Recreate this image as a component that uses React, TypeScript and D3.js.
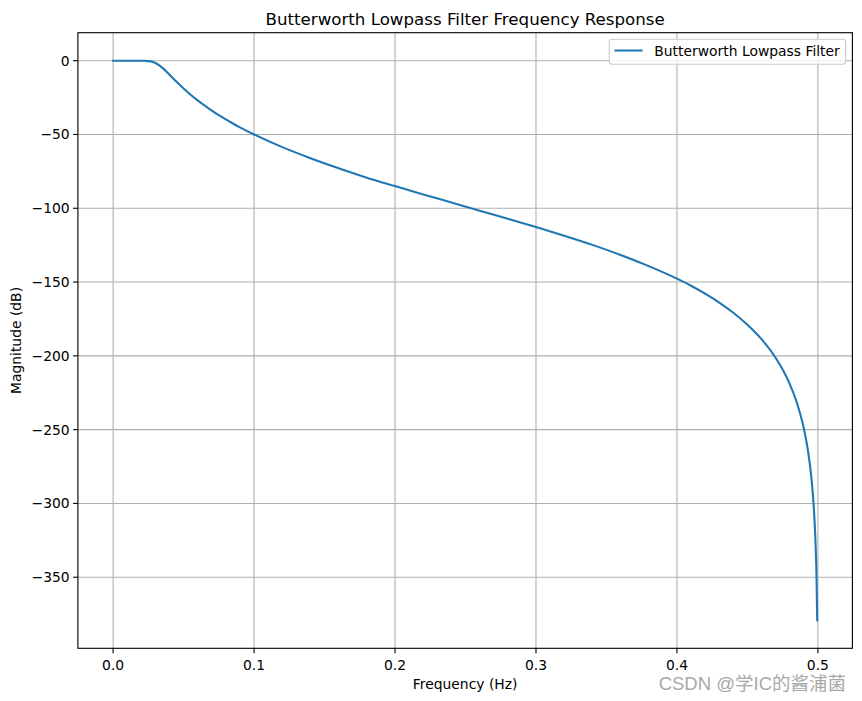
import React from "react";
import * as d3 from "d3";

const freqHz = [
  0, 0.005, 0.01, 0.015, 0.02, 0.0225, 0.025, 0.0275, 0.03, 0.0325, 0.035, 0.0375, 0.04, 0.0425, 0.045,
  0.05, 0.055, 0.06, 0.065, 0.07, 0.075, 0.08, 0.085, 0.09, 0.1, 0.12, 0.14, 0.16, 0.18, 0.2,
  0.22, 0.24, 0.26, 0.28, 0.3, 0.32, 0.34, 0.36, 0.38, 0.4, 0.41, 0.42, 0.43, 0.44, 0.45, 0.46,
  0.47, 0.475, 0.48, 0.485, 0.49, 0.493, 0.495, 0.496, 0.497, 0.498, 0.4985, 0.499, 0.4995,
];
const magnitudeDb = [
  0, 0, 0, -0.002, -0.032, -0.104, -0.293, -0.726, -1.573, -2.96, -4.86, -7.1, -9.51, -11.95, -14.33,
  -18.86, -23.05, -26.9, -30.47, -33.8, -36.88, -39.8, -42.55, -45.16, -50.0, -58.6, -66.07, -72.86, -79.26, -84.97,
  -90.6, -96.1, -101.6, -107.1, -112.7, -118.6, -124.8, -131.6, -139.2, -147.7, -152.5, -157.9, -163.9, -170.8, -178.9, -188.7,
  -201.3, -209.3, -219.0, -231.5, -249.1, -264.6, -279.2, -288.9, -301.4, -319.0, -331.5, -349.1, -379.2,
];
const xTicks = [0, 0.1, 0.2, 0.3, 0.4, 0.5];
const yTicks = [0, -50, -100, -150, -200, -250, -300, -350];

const W = 862;
const H = 701;
const left = 77.9;
const right = 852.4;
const top = 32.7;
const bottom = 648.3;
const FONT = "'DejaVu Sans', sans-serif";
const LW = 1.11;

export default function App() {
  const xMin = d3.min(freqHz) as number;
  const xMax = d3.max(freqHz) as number;
  const xPad = (xMax - xMin) * 0.05;
  const x = d3.scaleLinear().domain([xMin - xPad, xMax + xPad]).range([left, right]);
  const yMin = d3.min(magnitudeDb) as number;
  const yMax = d3.max(magnitudeDb) as number;
  const pad = (yMax - yMin) * 0.05;
  const y = d3.scaleLinear().domain([yMin - pad, yMax + pad]).range([bottom, top]);
  const pts: [number, number][] = freqHz.map((f, i) => [f, magnitudeDb[i]]);
  const line = d3
    .line<[number, number]>()
    .x((d) => x(d[0]))
    .y((d) => y(d[1]))
    .curve(d3.curveMonotoneX);

  return (
    <div style={{ position: "absolute", left: 0, top: 0 }}>
      <svg width={W} height={H} style={{ display: "block" }}>
        <rect x={0} y={0} width={W} height={H} fill="#ffffff" />
        <g stroke="#b0b0b0" strokeWidth={LW}>
          {xTicks.map((t) => (
            <line key={"gx" + t} x1={x(t)} x2={x(t)} y1={top} y2={bottom} />
          ))}
          {yTicks.map((t) => (
            <line key={"gy" + t} x1={left} x2={right} y1={y(t)} y2={y(t)} />
          ))}
        </g>
        <path d={line(pts) || ""} fill="none" stroke="#1f77b4" strokeWidth={2.08} strokeLinejoin="round" strokeLinecap="square" />
        <rect x={left} y={top} width={right - left} height={bottom - top} fill="none" stroke="#000" strokeWidth={LW} />
        <g stroke="#000" strokeWidth={LW}>
          {xTicks.map((t) => (
            <line key={"tx" + t} x1={x(t)} x2={x(t)} y1={bottom} y2={bottom + 4.86} />
          ))}
          {yTicks.map((t) => (
            <line key={"ty" + t} x1={left - 4.86} x2={left} y1={y(t)} y2={y(t)} />
          ))}
        </g>
        <g fontFamily={FONT} fontSize={13.89} fill="#000">
          {xTicks.map((t) => (
            <text key={"lx" + t} x={x(t)} y={669.5} textAnchor="middle">
              {d3.format(".1f")(t)}
            </text>
          ))}
          {yTicks.map((t) => (
            <text key={"ly" + t} x={69.7} y={y(t)} dy="0.36em" textAnchor="end">
              {t < 0 ? "\u2212" + Math.abs(t) : String(t)}
            </text>
          ))}
          <text x={(left + right) / 2} y={689} textAnchor="middle">
            Frequency (Hz)
          </text>
          <text transform={`translate(20.5, ${(top + bottom) / 2}) rotate(-90)`} textAnchor="middle">
            Magnitude (dB)
          </text>
        </g>
        <text x={(left + right) / 2} y={24.5} textAnchor="middle" fontFamily={FONT} fontSize={16.67} fill="#000">
          Butterworth Lowpass Filter Frequency Response
        </text>
        <g>
          <rect x={609.3} y={39.3} width={236.4} height={25} rx={3} fill="#ffffff" fillOpacity={0.8} stroke="#cccccc" strokeWidth={LW} />
          <line x1={614.5} x2={642.5} y1={50.5} y2={50.5} stroke="#1f77b4" strokeWidth={2.08} />
          <text x={654.3} y={55.6} fontFamily={FONT} fontSize={13.89} fill="#000">
            Butterworth Lowpass Filter
          </text>
        </g>
        <text
          x={846}
          y={690}
          textAnchor="end"
          fontFamily="'Liberation Sans', 'Noto Sans CJK SC', sans-serif"
          fontSize={18.5}
          fill="#a8a8a8"
        >
          CSDN @学IC的酱浦菌
        </text>
      </svg>
    </div>
  );
}
